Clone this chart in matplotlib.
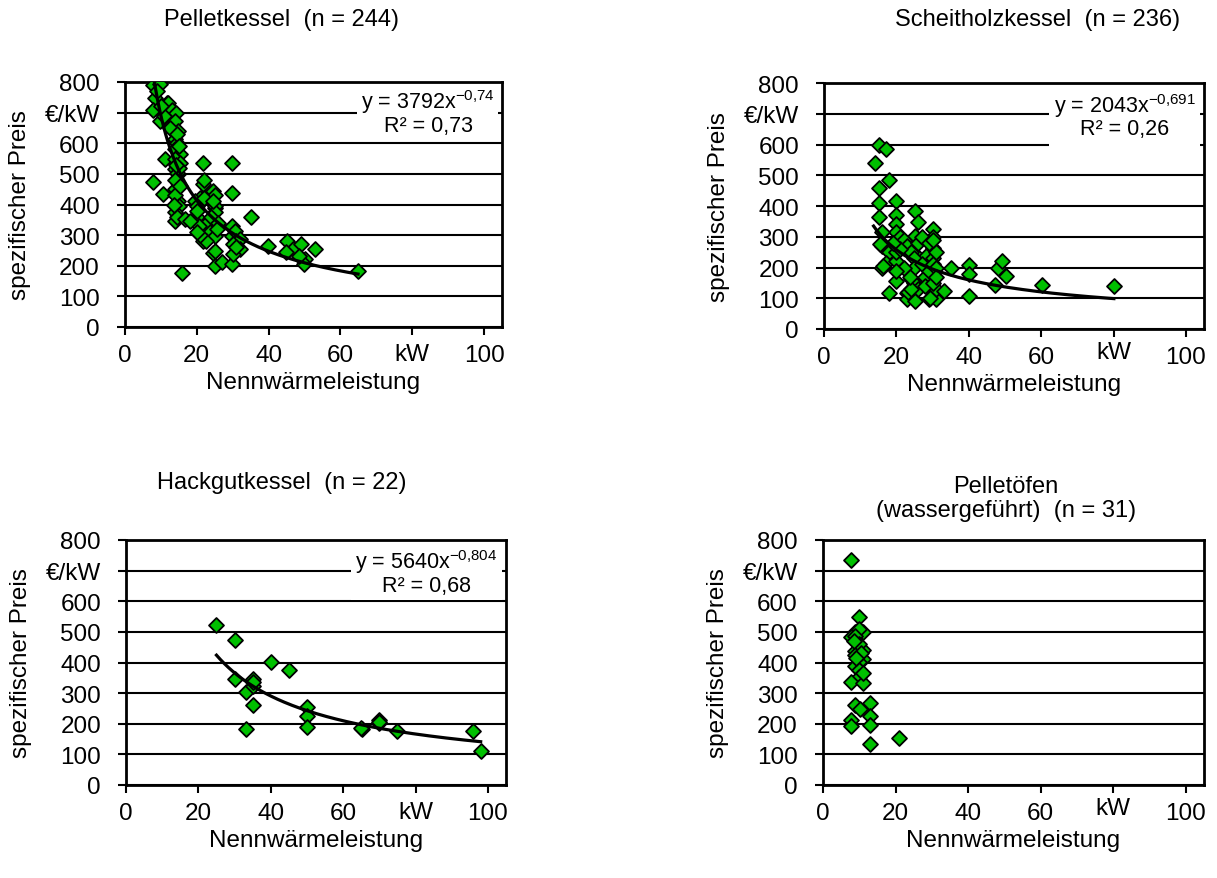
import numpy as np
import matplotlib
matplotlib.use("Agg")
from matplotlib import pyplot as plt
from matplotlib.patches import Rectangle

plt.rcParams['font.family'] = ['Liberation Sans', 'DejaVu Sans']
plt.rcParams['mathtext.fontset'] = 'custom'
plt.rcParams['mathtext.rm'] = 'Liberation Sans'
plt.rcParams['mathtext.it'] = 'Liberation Sans'

# Pelletkessel
pk_x = [7.9, 9.7, 8.3, 9.0, 11.6, 12.1, 7.9, 13.0, 14.2, 9.7, 13.9, 11.0, 14.8, 12.5, 13.9,
        14.5, 13.9, 15.3, 11.1, 13.9, 15.3, 13.9, 14.8, 14.4, 7.9, 10.7, 13.9, 14.8, 14.8, 13.9,
        15.0, 13.9, 13.9, 14.5, 16.7, 15.8, 15.0, 14.0, 21.8, 29.9, 21.8, 22.0, 24.6, 25.0,
        21.0, 19.5, 20.0, 20.0, 22.3, 25.0, 25.0, 25.0, 22.7, 23.7, 21.8, 25.0, 22.6, 24.6,
        25.0, 25.0, 26.9, 29.7, 29.9, 35.1, 29.9, 29.9, 30.5, 31.0, 32.0, 32.0, 30.0, 39.9,
        45.0, 46.8, 49.0, 52.9, 50.1, 49.9, 44.8, 48.4, 64.9, 21.0, 20.5, 24.0, 26.0, 25.5,
        22.0, 30.0, 31.0, 20.0, 18.0, 10.0, 14.5, 15.0, 14.2, 15.2, 13.6, 20.0, 24.5]
pk_y = [789, 792, 749, 770, 733, 733, 708, 708, 698, 673, 673, 690, 640, 650, 613,
        600, 580, 564, 548, 548, 537, 515, 499, 504, 472, 434, 450, 470, 412, 430,
        395, 374, 347, 360, 352, 175, 520, 480, 537, 537, 466, 480, 444, 430,
        420, 412, 396, 358, 336, 390, 396, 374, 341, 309, 282, 298, 281, 243,
        249, 200, 211, 205, 439, 358, 330, 298, 315, 280, 288, 254, 270, 265,
        281, 256, 271, 254, 222, 206, 244, 231, 184, 300, 330, 360, 340, 320,
        420, 240, 260, 380, 345, 720, 630, 590, 530, 460, 400, 310, 410]

# Scheitholzkessel
sh_x = [15.1, 17.1, 14.1, 18.0, 15.1, 15.1, 15.1, 20.0, 20.0, 20.0, 20.0, 25.1, 26.0, 30.0,
        25.1, 16.1, 16.1, 18.0, 17.1, 15.9, 20.0, 20.0, 18.0, 22.8, 22.8, 22.8, 25.1, 24.1,
        26.0, 29.0, 31.0, 31.0, 30.0, 30.0, 28.3, 33.2, 35.0, 40.1, 40.1, 40.1, 47.2, 48.1,
        49.1, 50.2, 60.1, 80.1, 20.0, 20.0, 21.0, 22.0, 23.0, 24.0, 25.0, 25.0, 25.0, 26.0,
        27.0, 28.0, 28.0, 29.0, 30.0, 30.0, 30.0, 30.0, 31.0, 31.0, 22.0, 23.2, 24.0, 21.0,
        19.0, 16.3, 15.4, 26.0, 27.0, 29.0, 30.0, 31.0, 20.0, 29.2, 23.7]
sh_y = [599, 584, 539, 485, 459, 409, 363, 415, 372, 341, 314, 385, 347, 325,
        303, 314, 271, 249, 216, 200, 222, 157, 116, 265, 118, 97, 91, 162,
        233, 97, 97, 129, 184, 265, 238, 124, 200, 208, 178, 108, 142, 200,
        222, 171, 143, 140, 280, 250, 300, 290, 270, 250, 230, 200, 150, 130,
        210, 170, 140, 190, 230, 210, 150, 300, 200, 250, 200, 119, 130, 260,
        280, 205, 276, 280, 300, 280, 290, 170, 190, 102, 168]

# Hackgutkessel
hg_x = [25.0, 30.0, 30.0, 33.1, 33.1, 35.1, 35.1, 35.1, 40.0, 45.1, 50.0, 50.0, 50.0,
        65.1, 65.0, 70.0, 70.0, 70.0, 75.0, 96.0, 98.0, 35.0]
hg_y = [524, 474, 345, 303, 184, 347, 323, 262, 401, 376, 254, 225, 189,
        184, 186, 211, 202, 206, 175, 175, 111, 335]

# Pelletöfen (wassergeführt)
po_x = [7.8, 9.9, 8.9, 10.9, 7.8, 9.9, 8.9, 10.9, 8.9, 10.9, 9.9, 8.9, 9.9, 9.9, 7.8,
        10.9, 8.9, 10.3, 12.9, 12.9, 7.8, 7.8, 12.9, 12.9, 21.0, 8.9, 9.9, 10.5, 9.0, 8.5, 11.0]
po_y = [736, 550, 501, 501, 483, 510, 439, 442, 423, 412, 403, 390, 374, 352, 336,
        333, 260, 249, 268, 225, 211, 192, 197, 135, 155, 488, 460, 430, 415, 470, 365]

titles = ["Pelletkessel  (n = 244)", "Scheitholzkessel  (n = 236)",
          "Hackgutkessel  (n = 22)", "Pelletöfen\n(wassergeführt)  (n = 31)"]
# trend: coefficient, exponent, exponent text, R² text, x from, x to
trends = [(3792, -0.74, "0{,}74", "0,73", 7.9, 64.9),
          (2043, -0.691, "0{,}691", "0,26", 13.7, 80.1),
          (5640, -0.804, "0{,}804", "0,68", 25.0, 98.0),
          None]

xticks = [0, 20, 40, 60, 80, 100]
xtick_labels = ["0", "20", "40", "60", "", "100"]
yticks = [0, 100, 200, 300, 400, 500, 600, 700, 800]
ytick_labels = ["0", "100", "200", "300", "400", "500", "600", "€/kW", "800"]

W, H = 1217, 879
fig = plt.figure(figsize=(W / 100, H / 100), dpi=100)

# pixel boxes: left, top, right, bottom
boxes = [(125, 83, 502, 328), (824, 84, 1204, 330),
         (126, 541, 506, 786), (823, 541, 1204, 786)]
daten = [(pk_x, pk_y), (sh_x, sh_y), (hg_x, hg_y), (po_x, po_y)]
titel_pos = [(282, 20), (1038, 20), (282, 483), (1006, 499)]
kw_abstand = [-27, -23, -27, -23]
# equation box: x0, y0, text x, line1 y, line2 y
eq_box = [(64.5, 610, 84.4, 738, 659), (62.2, 588, 83, 727, 651), (62.2, 605, 83, 732, 651), None]
gruen = "#00C000"
fs = 17.5

for i in range(4):
    l, t, r, b = boxes[i]
    ax = fig.add_axes([l / W, 1 - b / H, (r - l) / W, (b - t) / H])
    ax.set_xlim(0, 105)
    ax.set_ylim(0, 800)
    ax.set_xticks(xticks)
    ax.set_xticklabels(xtick_labels)
    ax.set_yticks(yticks)
    ax.set_yticklabels(ytick_labels)
    ax.set_axisbelow(True)
    ax.yaxis.grid(True, color="black", lw=1.5)
    for s in ax.spines.values():
        s.set_linewidth(2)
    ax.tick_params(direction="out", length=6, width=1.5, labelsize=fs)
    ax.tick_params(axis="x", pad=6)
    ax.tick_params(axis="y", pad=12)

    x, y = daten[i]
    ax.scatter(x, y, marker="D", s=58, c=gruen, edgecolors="black", linewidths=1.3, zorder=3)

    if trends[i] is not None:
        c, e, etxt, r2, x0, x1 = trends[i]
        xs = np.linspace(x0, x1, 200)
        ax.plot(xs, c * xs ** e, color="black", lw=2.3, zorder=4)
        bx, by, tx, ty1, ty2 = eq_box[i]
        ax.add_patch(Rectangle((bx, by), 104 - bx, 795 - by, facecolor="white",
                               edgecolor="none", zorder=1))
        ax.text(tx, ty1, "y = %dx$^{\\mathregular{-%s}}$" % (c, etxt), fontsize=15.5,
                ha="center", va="center", zorder=5)
        ax.text(tx, ty2, "R² = " + r2, fontsize=15.5, ha="center", va="center", zorder=5)

    # kW statt 80
    ax.annotate("kW", xy=(80, 0), xycoords=("data", "axes fraction"),
                xytext=(0, kw_abstand[i]), textcoords="offset pixels",
                ha="center", va="center", fontsize=fs)

    # Beschriftungen
    cx = (l + r) / 2
    fig.text(cx / W, 1 - (b + 55) / H, "Nennwärmeleistung", fontsize=fs, ha="center", va="center")
    fig.text((l - 105) / W, 1 - (t + b) / 2 / H, "spezifischer Preis", fontsize=fs,
             rotation=90, ha="center", va="center")
    px, py = titel_pos[i]
    fig.text(px / W, 1 - py / H, titles[i], fontsize=17, ha="center", va="center",
             linespacing=1.15)

fig.savefig("out.png", dpi=100)
